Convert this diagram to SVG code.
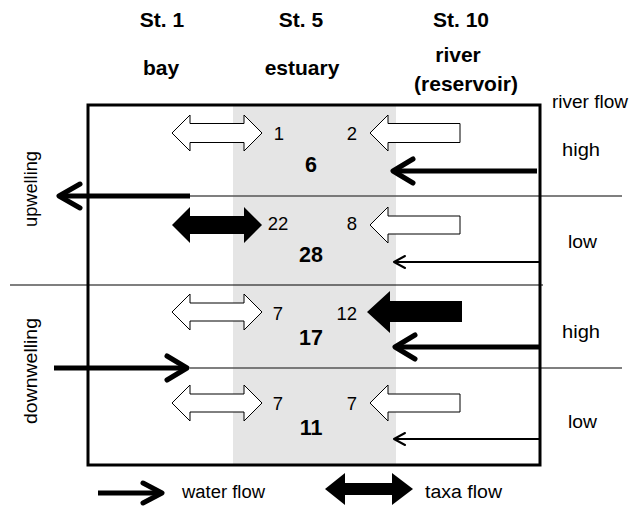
<svg xmlns="http://www.w3.org/2000/svg" width="630" height="507" viewBox="0 0 630 507">
<style>
text{font-family:"Liberation Sans",Arial,sans-serif;fill:#000}
.hdr{font-size:21px;font-weight:bold;text-anchor:middle}
.lbl{font-size:18px}
.num{font-size:18.5px}
.big{font-size:21.5px;font-weight:bold;text-anchor:middle}
.open{fill:#fff;stroke:#000;stroke-width:1}
.fill{fill:#000;stroke:none}
.thick{stroke:#000;stroke-width:5;fill:none;stroke-linecap:butt}
.thin{stroke:#000;stroke-width:2;fill:none}
.chevT{stroke:#000;stroke-width:5;fill:none;stroke-linecap:round;stroke-linejoin:round}
.chevt{stroke:#000;stroke-width:2;fill:none;stroke-linecap:round;stroke-linejoin:round}
.div{stroke:#555;stroke-width:1.5}
</style>
<rect x="0" y="0" width="630" height="507" fill="#fff"/>
<g id="estuary-band"><rect x="233" y="105" width="163" height="360" fill="#e5e5e5"/></g>
<g id="headers">
<text class="hdr" x="162" y="27">St. 1</text>
<text class="hdr" x="301" y="27">St. 5</text>
<text class="hdr" x="461" y="27">St. 10</text>
<text class="hdr" x="161" y="75">bay</text>
<text class="hdr" x="302" y="75">estuary</text>
<text class="hdr" x="458" y="62">river</text>
<text class="hdr" x="466" y="91">(reservoir)</text>
</g>
<g id="side-labels">
<text class="lbl" x="552" y="108" textLength="76" lengthAdjust="spacingAndGlyphs">river flow</text>
<text class="lbl" x="562" y="156" textLength="38" lengthAdjust="spacingAndGlyphs">high</text>
<text class="lbl" x="568" y="248" textLength="29" lengthAdjust="spacingAndGlyphs">low</text>
<text class="lbl" x="562" y="338" textLength="38" lengthAdjust="spacingAndGlyphs">high</text>
<text class="lbl" x="568" y="428" textLength="29" lengthAdjust="spacingAndGlyphs">low</text>
<text class="lbl" transform="translate(37,189) rotate(-90)" text-anchor="middle" textLength="76" lengthAdjust="spacingAndGlyphs">upwelling</text>
<text class="lbl" transform="translate(37,371) rotate(-90)" text-anchor="middle" textLength="106" lengthAdjust="spacingAndGlyphs">downwelling</text>
</g>
<g id="dividers">
<line class="div" x1="190" y1="196" x2="622" y2="196"/>
<line x1="10" y1="285" x2="543" y2="285" stroke="#000" stroke-width="1.2"/>
<line class="div" x1="190" y1="368" x2="622" y2="368"/>
</g>
<g id="frame"><rect x="88" y="105" width="452" height="360" fill="none" stroke="#000" stroke-width="3"/></g>
<g id="connectors">
<path class="open" d="M172,133 L190,115 L190,123.5 L244,123.5 L244,115 L262,133 L244,151 L244,142.5 L190,142.5 L190,151 Z"/>
<path class="fill" d="M172,225 L190,207 L190,216 L244,216 L244,207 L262,225 L244,243 L244,234 L190,234 L190,243 Z"/>
<path class="open" d="M172,312 L190,294 L190,303 L244,303 L244,294 L262,312 L244,330 L244,321 L190,321 L190,330 Z"/>
<path class="open" d="M172,403 L190,385 L190,394 L244,394 L244,385 L262,403 L244,421 L244,412 L190,412 L190,421 Z"/>
<path class="open" d="M370,133 L388,115 L388,123.5 L460,123.5 L460,142.5 L388,142.5 L388,151 Z"/>
<path class="open" d="M370,225 L388,207 L388,216 L460,216 L460,234 L388,234 L388,243 Z"/>
<path class="fill" d="M367,312 L390,291 L390,301 L462,301 L462,322 L390,322 L390,333 Z"/>
<path class="open" d="M370,403 L388,385 L388,394 L460,394 L460,412 L388,412 L388,421 Z"/>
<line class="thick" x1="537" y1="171" x2="394" y2="171"/>
<polyline class="chevT" points="413,159 393,171 413,183"/>
<line class="thin" x1="540" y1="262" x2="395" y2="262"/>
<polyline class="chevt" points="405,256 394,262 405,268"/>
<line class="thick" x1="540" y1="347" x2="396" y2="347"/>
<polyline class="chevT" points="415,335 395,347 415,359"/>
<line class="thin" x1="540" y1="439" x2="395" y2="439"/>
<polyline class="chevt" points="405,433 394,439 405,445"/>
<line class="thick" x1="190" y1="196" x2="60" y2="196"/>
<polyline class="chevT" points="80,184 59,196 80,208"/>
<line class="thick" x1="54" y1="368" x2="186" y2="368"/>
<polyline class="chevT" points="167,356 187,368 167,380"/>
</g>
<g id="counts">
<text class="num" x="279" y="140" text-anchor="middle">1</text>
<text class="num" x="357" y="140" text-anchor="end">2</text>
<text class="big" x="311" y="172">6</text>
<text class="num" x="278" y="230" text-anchor="middle">22</text>
<text class="num" x="357" y="230" text-anchor="end">8</text>
<text class="big" x="311" y="262">28</text>
<text class="num" x="278" y="320" text-anchor="middle">7</text>
<text class="num" x="357" y="320" text-anchor="end">12</text>
<text class="big" x="311" y="345">17</text>
<text class="num" x="278" y="410" text-anchor="middle">7</text>
<text class="num" x="357" y="410" text-anchor="end">7</text>
<text class="big" x="311" y="435">11</text>
</g>
<g id="legend">
<line class="thick" x1="98" y1="493" x2="160" y2="493"/>
<polyline class="chevT" points="143,483 162,493 143,503"/>
<text class="lbl" x="182" y="498" textLength="83" lengthAdjust="spacingAndGlyphs">water flow</text>
<path class="fill" d="M325,489 L345,473 L345,483 L392,483 L392,473 L413,489 L392,505 L392,495 L345,495 L345,505 Z"/>
<text class="lbl" x="425" y="498" textLength="77" lengthAdjust="spacingAndGlyphs">taxa flow</text>
</g>
</svg>
